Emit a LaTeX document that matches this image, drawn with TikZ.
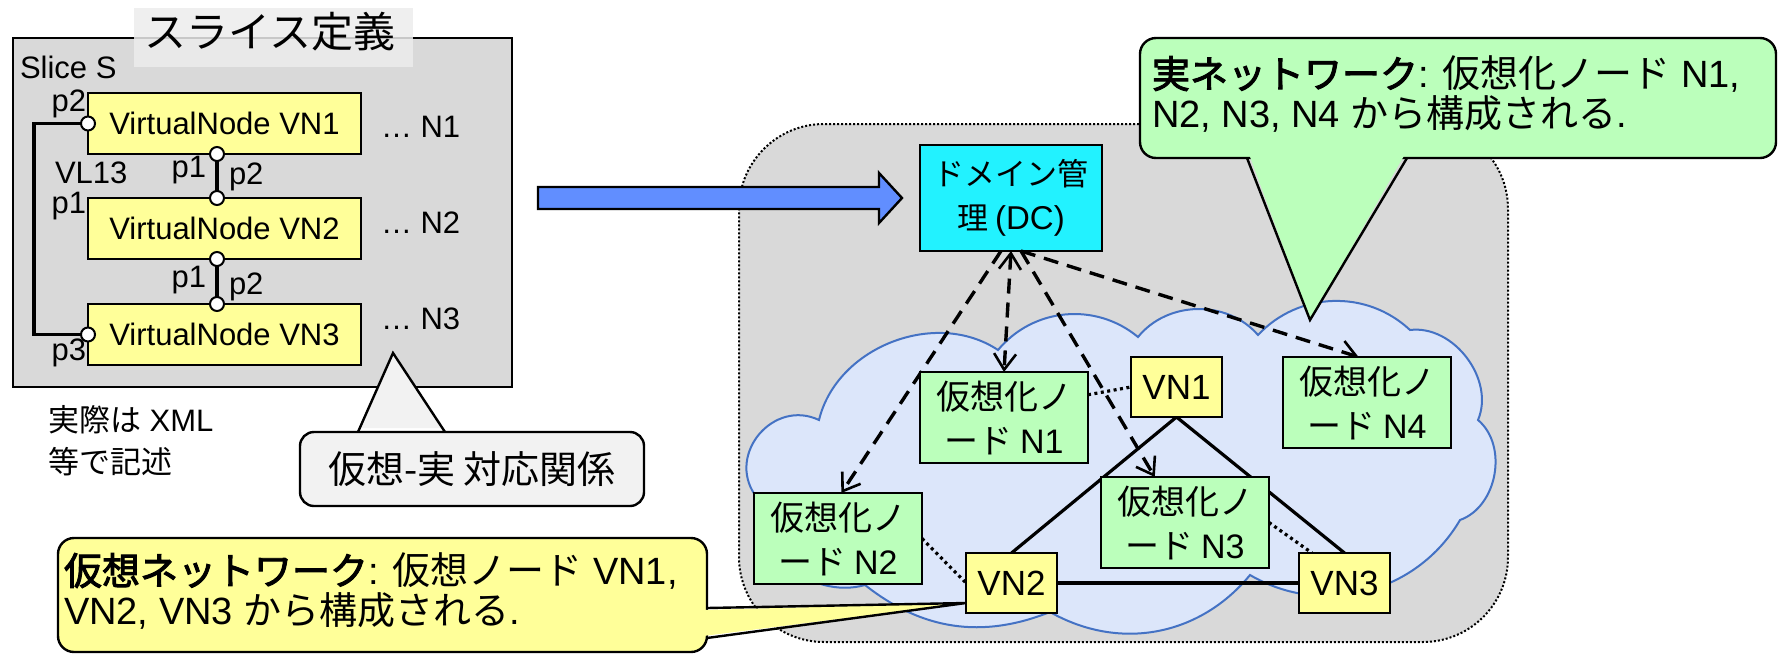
\documentclass[tikz,border=0pt]{standalone}
\usepackage{fontspec}
\setmainfont{Liberation Sans}
\newfontfamily\jp{Noto Sans CJK JP}[AutoFakeBold=2.5]
\usetikzlibrary{arrows.meta,calc}
\definecolor{gbg}{HTML}{D9D9D9}
\definecolor{vyel}{HTML}{FFFF99}
\definecolor{ngreen}{HTML}{BBFFBB}
\definecolor{dccyan}{HTML}{22F2FF}
\definecolor{arrblue}{HTML}{618EFF}
\definecolor{cloudfill}{HTML}{DCE6FA}
\definecolor{cloudline}{HTML}{4472C4}
\definecolor{lgray}{HTML}{F2F2F2}
\definecolor{titlebg}{HTML}{ECECEC}
\begin{document}
\begin{tikzpicture}[x=1pt,y=-1pt,
  every node/.style={inner sep=0pt, outer sep=0pt},
  lab/.style={font=\fontsize{31}{36}\selectfont},
  vnode/.style={draw=black, line width=2.2pt, fill=vyel, font=\fontsize{31}{36}\selectfont, minimum width=273pt, minimum height=61pt, anchor=north west},
  port/.style={circle, draw=black, line width=2pt, fill=white, minimum size=14pt},
  nbox/.style={draw=black, line width=2.4pt, fill=ngreen, minimum width=168pt, minimum height=91pt, anchor=north west, align=center, font=\jp\fontsize{34}{44}\selectfont},
  ybox/.style={draw=black, line width=2.4pt, fill=vyel, minimum width=91pt, minimum height=60pt, anchor=north west, font=\fontsize{35}{40}\selectfont},
  barb/.tip={Straight Barb[length=16pt,width=22pt,line width=2.6pt]},
  dasharrow/.style={line width=3.4pt, dash pattern=on 15pt off 9pt, -barb},
  dotlink/.style={line width=3.2pt, dash pattern=on 3pt off 3.5pt},
  solidlink/.style={line width=3.2pt},
  cloudst/.style={draw=cloudline, line width=2pt, fill=cloudfill}
]
\useasboundingbox (0,0) rectangle (1778,654);

% ---------------- left: slice definition ----------------
\node[draw=black, line width=2.4pt, fill=gbg, minimum width=499pt, minimum height=349pt, anchor=north west] (slice) at (13,38) {};
\fill[titlebg, opacity=0.85] (134,8) rectangle (413,67);
\node[font=\jp\fontsize{42}{48}\selectfont] (title) at (270,32) {スライス定義};
\node[lab, anchor=base west] (sliceS) at (20,78) {Slice S};

\node[vnode] (v1) at (88,93) {VirtualNode VN1};
\node[vnode] (v2) at (88,198) {VirtualNode VN2};
\node[vnode] (v3) at (88,304) {VirtualNode VN3};

\coordinate (v1L) at (v1.west);
\coordinate (v3L) at (v3.west);
\coordinate (v1B) at ($(v1.south west)+(129,0)$);
\coordinate (v2T) at ($(v2.north west)+(129,0)$);
\coordinate (v2B) at ($(v2.south west)+(129,0)$);
\coordinate (v3T) at ($(v3.north west)+(129,0)$);

\draw[line width=4.2pt] (v1B) -- (v2T);
\draw[line width=4.2pt] (v2B) -- (v3T);
\draw[line width=3.3pt] (v1L) -- ++(-54,0) |- (v3L);
\foreach \p in {v1L,v3L,v1B,v2T,v2B,v3T} \node[port] (port\p) at (\p) {};

\node[lab, anchor=base east] (lp2a) at (86,111) {p2};
\node[lab, anchor=base west] (lvl) at (55,183) {VL13};
\node[lab, anchor=base east] (lp1a) at (86,213) {p1};
\node[lab, anchor=base east] (lp1b) at (206,177) {p1};
\node[lab, anchor=base west] (lp2b) at (229,184) {p2};
\node[lab, anchor=base east] (lp1c) at (206,287) {p1};
\node[lab, anchor=base west] (lp2c) at (229,294) {p2};
\node[lab, anchor=base east] (lp3) at (86,360) {p3};

\node[lab, anchor=base west] (d1) at (381,137) {… N1};
\node[lab, anchor=base west] (d2) at (381,233) {… N2};
\node[lab, anchor=base west] (d3) at (381,329) {… N3};

\node[lab, anchor=north west, align=left, font=\fontsize{31}{42}\selectfont] (note) at (48,405) {{\jp 実際は} XML\\{\jp 等で記述}};

% correspondence callout
\node[draw=black, line width=2.4pt, fill=lgray, rounded corners=14pt, minimum width=344pt, minimum height=74pt, anchor=north west, font=\jp\fontsize{38}{44}\selectfont] (corr) at (300,432) {仮想-実 対応関係};
\coordinate (corrtip) at (393,353);
\fill[lgray] (360,428) -- (corrtip) -- (443,428) -- cycle;
\draw[line width=2.4pt, line join=miter] (358,432) -- (corrtip) -- (445,432);

% ---------------- right: real network ----------------
\node[draw=black, line width=2pt, dash pattern=on 2pt off 2pt, fill=gbg, rounded corners=85pt, minimum width=769pt, minimum height=518pt, anchor=north west] (realarea) at (739,124) {};

\draw[cloudst] (755,495) to[bend left=75, looseness=1.3] (819,420)
  to[bend left=55] (998,350)
  to[bend left=45] (1138,337)
  to[bend left=50] (1258,335)
  to[bend left=45] (1410,330)
  to[bend left=60] (1478,420)
  to[bend left=60] (1460,520)
  to[bend left=45] (1250,575)
  to[bend left=40] (1050,612)
  to[bend left=30] (865,585)
  to[bend left=55] (755,495) -- cycle;

% blue arrow
\draw[line width=2.4pt, fill=arrblue, line join=miter] (538,187) -- (879,187) -- (879,173) -- (902,198) -- (879,223) -- (879,209) -- (538,209) -- cycle;

\node[draw=black, line width=2.4pt, fill=dccyan, minimum width=182pt, minimum height=106pt, anchor=north west, align=center, font=\jp\fontsize{31}{44}\selectfont] (dc) at (920,145) {ドメイン管\\理 {\normalfont\fontsize{33}{44}\selectfont (DC)}};

\node[nbox] (n1) at (920,372) {仮想化ノ\\ード {\normalfont N1}};
\node[nbox] (n2) at (754,493) {仮想化ノ\\ード {\normalfont N2}};
\node[nbox] (n3) at (1101,477) {仮想化ノ\\ード {\normalfont N3}};
\node[nbox] (n4) at (1283,357) {仮想化ノ\\ード {\normalfont N4}};

\node[ybox] (vn1) at (1131,357) {VN1};
\node[ybox] (vn2) at (966,553) {VN2};
\node[ybox] (vn3) at (1299,553) {VN3};

% dashed management arrows
\draw[dasharrow, barb-barb] (dc.south) -- (n1.north);
\draw[dasharrow] ($(dc.south)+(-10,0)$) -- ($(n2.north west)!0.52!(n2.north east)$);
\draw[dasharrow] ($(dc.south)+(10,0)$) -- ($(n3.north west)!0.32!(n3.north east)$);
\draw[dasharrow] ($(dc.south)+(10,0)$) -- ($(n4.north west)!0.45!(n4.north east)$);

% virtual links
\draw[solidlink] (vn1.south) -- (vn2.north);
\draw[solidlink] (vn1.south) -- (vn3.north);
\draw[solidlink] (vn2.east) -- (vn3.west);

% mapping (dotted)
\draw[dotlink] ($(n1.north east)!0.25!(n1.south east)$) -- (vn1.west);
\draw[dotlink] (n2.east) -- (vn2.west);
\draw[dotlink] (n3.east) -- ($(vn3.north west)+(13,0)$);

% redraw boxes on top of links
\node[nbox] at (n1.north west) {仮想化ノ\\ード {\normalfont N1}};
\node[nbox] at (n2.north west) {仮想化ノ\\ード {\normalfont N2}};
\node[nbox] at (n3.north west) {仮想化ノ\\ード {\normalfont N3}};
\node[nbox] at (n4.north west) {仮想化ノ\\ード {\normalfont N4}};
\node[ybox] at (vn1.north west) {VN1};
\node[ybox] at (vn2.north west) {VN2};
\node[ybox] at (vn3.north west) {VN3};

% green callout (real network)
\node[draw=black, line width=2.4pt, fill=ngreen, rounded corners=16pt, minimum width=636pt, minimum height=120pt, anchor=north west] (gcall) at (1140,38) {};
\node[anchor=north west, align=left, font=\fontsize{38}{40}\selectfont] (gtext) at (1152,56) {{\jp\bfseries 実ネットワーク}: {\jp 仮想化ノード} N1,\\N2, N3, N4 {\jp から構成される}.};
\coordinate (gtip) at (1310,320);
\fill[ngreen] (1249,154) -- (gtip) -- (1405,154) -- cycle;
\draw[line width=2.4pt, line join=miter] (1247,158) -- (gtip) -- (1407,158);

% yellow callout (virtual network)
\node[draw=black, line width=2.4pt, fill=vyel, rounded corners=16pt, minimum width=649pt, minimum height=114pt, anchor=north west] (ycall) at (58,538) {};
\node[anchor=north west, align=left, font=\fontsize{38}{40}\selectfont] (ytext) at (64,553) {{\jp\bfseries 仮想ネットワーク}: {\jp 仮想ノード} VN1,\\VN2, VN3 {\jp から構成される}.};
\coordinate (ytip) at ($(vn2.south west)+(0,-10)$);
\fill[vyel] (703,610) -- (ytip) -- (703,636) -- cycle;
\draw[line width=2.4pt, line join=miter] (707,608) -- (ytip) -- (707,638);
\end{tikzpicture}
\end{document}
